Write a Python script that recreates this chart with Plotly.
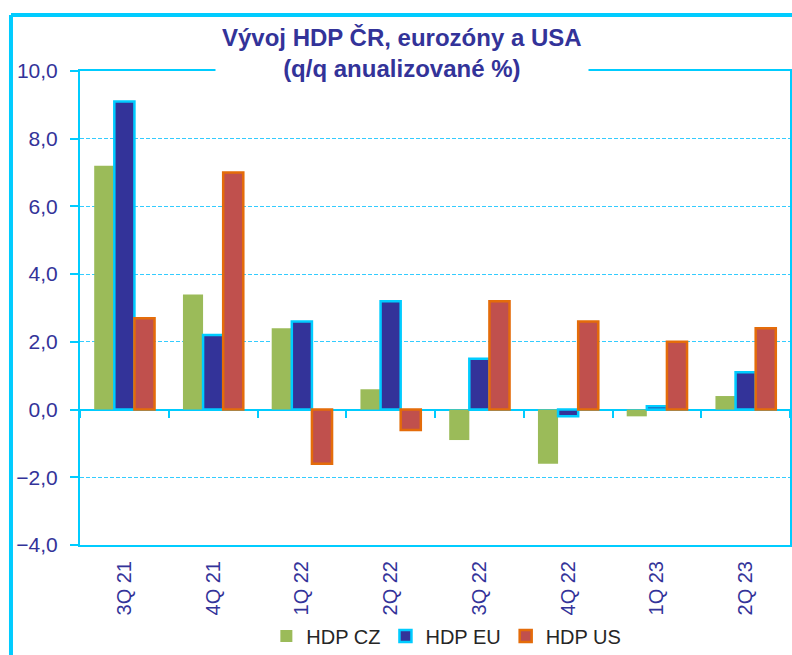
import plotly.graph_objects as go

# data
ctvrtleti = ['3Q 21', '4Q 21', '1Q 22', '2Q 22', '3Q 22', '4Q 22', '1Q 23', '2Q 23']
hdp_cz = [7.2, 3.4, 2.4, 0.6, -0.9, -1.6, -0.2, 0.4]
hdp_eu = [9.1, 2.2, 2.6, 3.2, 1.5, -0.2, 0.1, 1.1]
hdp_us = [2.7, 7.0, -1.6, -0.6, 3.2, 2.6, 2.0, 2.4]

CYAN = '#00CCFF'
NAVY = '#333399'
FONT = 'Liberation Sans, Arial, sans-serif'

fig = go.Figure()

fig.add_trace(go.Bar(x=ctvrtleti, y=hdp_cz, name='HDP CZ',
                     marker=dict(color='#9BBB59', line=dict(width=0))))
fig.add_trace(go.Bar(x=ctvrtleti, y=hdp_eu, name='HDP EU',
                     marker=dict(color=NAVY, line=dict(color=CYAN, width=2.5))))
fig.add_trace(go.Bar(x=ctvrtleti, y=hdp_us, name='HDP US',
                     marker=dict(color='#C0504D', line=dict(color='#E46C0A', width=2.5))))

# neviditelna stopa jen kvuli ose s carkami na nulove linii
fig.add_trace(go.Scatter(x=ctvrtleti, y=[None] * len(ctvrtleti), xaxis='x2',
                         mode='markers', showlegend=False, hoverinfo='skip'))

fig.update_layout(
    width=792, height=655,
    margin=dict(l=80, r=2, t=71, b=110, autoexpand=False),
    paper_bgcolor='white', plot_bgcolor='white',
    separators=', ',
    barmode='group', bargap=0.32, bargroupgap=0,
    font=dict(family=FONT, color=NAVY),
    showlegend=True,
    legend=dict(orientation='h', x=0.516, xanchor='center', y=-0.192, yanchor='middle',
                font=dict(family=FONT, size=20, color='#262626'),
                bgcolor='rgba(0,0,0,0)', itemwidth=30, traceorder='normal'),
    xaxis=dict(type='category', range=[-0.5, 7.5], showline=True, mirror=True,
               linecolor=CYAN, linewidth=2, ticks='', showgrid=False, automargin=False,
               tickangle=-90, tickfont=dict(family=FONT, size=20, color=NAVY),
               ticklabelstandoff=6),
    xaxis2=dict(type='category', range=[-0.5, 7.5], overlaying='x', anchor='free',
                position=4 / 14, showline=False, showgrid=False, showticklabels=False,
                ticks='outside', tickson='boundaries', ticklen=7, tickwidth=1.5,
                tickcolor=CYAN),
    yaxis=dict(range=[-4, 10], dtick=2, tickformat='.1f', showline=True, mirror=True,
               linecolor=CYAN, linewidth=2, ticks='outside', ticklen=8, tickwidth=1.5,
               tickcolor=CYAN, showgrid=True, gridcolor='#33CCFF', gridwidth=1,
               griddash='4px,2px', zeroline=True, zerolinecolor=CYAN, zerolinewidth=2,
               automargin=False,
               tickfont=dict(family=FONT, size=21, color=NAVY), ticklabelstandoff=8),
)

# titulek s bilym pozadim prekryva horni okraj grafu
fig.add_annotation(
    text='<b>Vývoj HDP ČR, eurozóny a USA</b><br><b>(q/q anualizované %)</b>',
    xref='paper', yref='paper', x=0.453, y=1.114, xanchor='center', yanchor='top',
    showarrow=False, align='center', bgcolor='white', borderpad=6,
    font=dict(family=FONT, size=24, color=NAVY),
)

# vnejsi ramecek - jen horni a leva hrana, zbytek je mimo obrazek
fig.add_shape(type='line', xref='paper', yref='paper',
              x0=-0.0972, x1=1.2, y0=1.118, y1=1.118,
              line=dict(color=CYAN, width=4), layer='below')
fig.add_shape(type='line', xref='paper', yref='paper',
              x0=-0.0972, x1=-0.0972, y0=-0.4, y1=1.118,
              line=dict(color=CYAN, width=4), layer='below')

# bez okraje stranky, aby graf sedel presne do okna
fig.write_html('out.html',
               config={'displayModeBar': False},
               post_script="document.body.style.margin='0px';"
                           "document.body.style.overflow='hidden';")
